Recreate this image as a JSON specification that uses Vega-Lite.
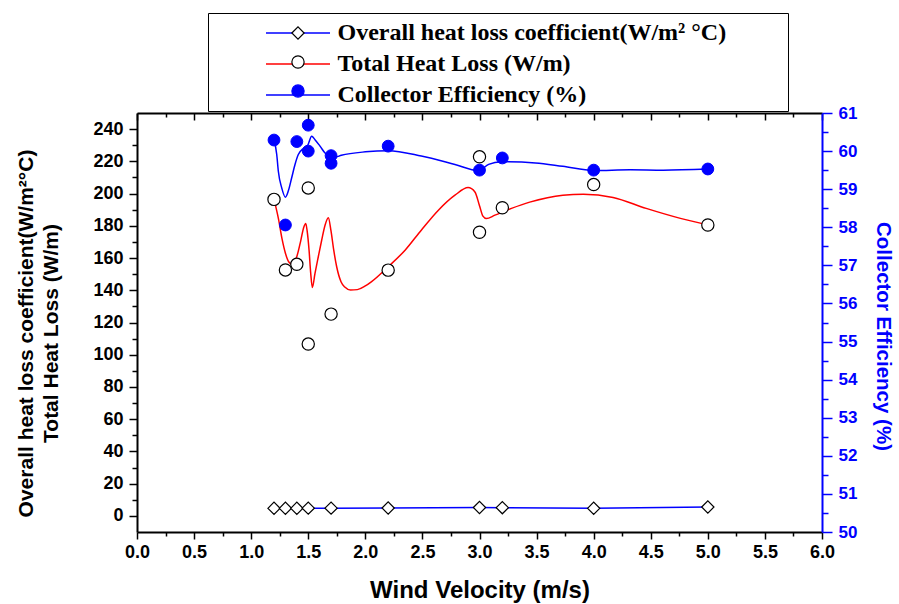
{
  "$schema": "https://vega.github.io/schema/vega-lite/v6.json",
  "width": 685,
  "height": 419,
  "autosize": {"type": "none"},
  "padding": {"left": 137, "top": 113, "right": 77, "bottom": 72},
  "background": "white",
  "config": {
    "view": {"stroke": null},
    "axis": {"grid": false, "labelFont": "Liberation Sans", "titleFont": "Liberation Sans", "labelFontWeight": "bold", "titleFontWeight": "bold", "labelFlush": false, "labelOverlap": false, "labelColor": "black", "titleColor": "black", "tickColor": "black", "domainColor": "black"}
  },
  "datasets": {
    "points": [
      {"x": 1.2, "y": 4.7, "series": "Overall heat loss coefficient(W/m² °C)"},
      {"x": 1.3, "y": 4.7, "series": "Overall heat loss coefficient(W/m² °C)"},
      {"x": 1.4, "y": 4.7, "series": "Overall heat loss coefficient(W/m² °C)"},
      {"x": 1.5, "y": 4.8, "series": "Overall heat loss coefficient(W/m² °C)"},
      {"x": 1.7, "y": 4.8, "series": "Overall heat loss coefficient(W/m² °C)"},
      {"x": 2.2, "y": 4.9, "series": "Overall heat loss coefficient(W/m² °C)"},
      {"x": 3.0, "y": 5.2, "series": "Overall heat loss coefficient(W/m² °C)"},
      {"x": 3.2, "y": 5.1, "series": "Overall heat loss coefficient(W/m² °C)"},
      {"x": 4.0, "y": 4.7, "series": "Overall heat loss coefficient(W/m² °C)"},
      {"x": 5.0, "y": 5.5, "series": "Overall heat loss coefficient(W/m² °C)"},
      {"x": 1.2, "y": 196.4, "series": "Total Heat Loss (W/m)"},
      {"x": 1.3, "y": 152.6, "series": "Total Heat Loss (W/m)"},
      {"x": 1.4, "y": 156.1, "series": "Total Heat Loss (W/m)"},
      {"x": 1.5, "y": 203.5, "series": "Total Heat Loss (W/m)"},
      {"x": 1.5, "y": 106.6, "series": "Total Heat Loss (W/m)"},
      {"x": 1.7, "y": 125.2, "series": "Total Heat Loss (W/m)"},
      {"x": 2.2, "y": 152.5, "series": "Total Heat Loss (W/m)"},
      {"x": 3.0, "y": 222.8, "series": "Total Heat Loss (W/m)"},
      {"x": 3.0, "y": 176.0, "series": "Total Heat Loss (W/m)"},
      {"x": 3.2, "y": 191.2, "series": "Total Heat Loss (W/m)"},
      {"x": 4.0, "y": 205.6, "series": "Total Heat Loss (W/m)"},
      {"x": 5.0, "y": 180.5, "series": "Total Heat Loss (W/m)"},
      {"x": 1.2, "y": 60.29, "series": "Collector Efficiency (%)"},
      {"x": 1.3, "y": 58.06, "series": "Collector Efficiency (%)"},
      {"x": 1.4, "y": 60.25, "series": "Collector Efficiency (%)"},
      {"x": 1.5, "y": 60.68, "series": "Collector Efficiency (%)"},
      {"x": 1.5, "y": 60.0, "series": "Collector Efficiency (%)"},
      {"x": 1.7, "y": 59.88, "series": "Collector Efficiency (%)"},
      {"x": 1.7, "y": 59.68, "series": "Collector Efficiency (%)"},
      {"x": 2.2, "y": 60.13, "series": "Collector Efficiency (%)"},
      {"x": 3.0, "y": 59.5, "series": "Collector Efficiency (%)"},
      {"x": 3.2, "y": 59.82, "series": "Collector Efficiency (%)"},
      {"x": 4.0, "y": 59.5, "series": "Collector Efficiency (%)"},
      {"x": 5.0, "y": 59.53, "series": "Collector Efficiency (%)"}
    ],
    "curves": [
      {"x": 1.2, "y": 196.4, "curve": "Total Heat Loss (W/m)"},
      {"x": 1.24, "y": 184, "curve": "Total Heat Loss (W/m)"},
      {"x": 1.27, "y": 172, "curve": "Total Heat Loss (W/m)"},
      {"x": 1.3, "y": 163, "curve": "Total Heat Loss (W/m)"},
      {"x": 1.33, "y": 157.5, "curve": "Total Heat Loss (W/m)"},
      {"x": 1.355, "y": 156.3, "curve": "Total Heat Loss (W/m)"},
      {"x": 1.38, "y": 158, "curve": "Total Heat Loss (W/m)"},
      {"x": 1.4, "y": 161, "curve": "Total Heat Loss (W/m)"},
      {"x": 1.435, "y": 171, "curve": "Total Heat Loss (W/m)"},
      {"x": 1.46, "y": 179, "curve": "Total Heat Loss (W/m)"},
      {"x": 1.478, "y": 181.5, "curve": "Total Heat Loss (W/m)"},
      {"x": 1.49, "y": 177, "curve": "Total Heat Loss (W/m)"},
      {"x": 1.507, "y": 165, "curve": "Total Heat Loss (W/m)"},
      {"x": 1.521, "y": 151, "curve": "Total Heat Loss (W/m)"},
      {"x": 1.536, "y": 141.7, "curve": "Total Heat Loss (W/m)"},
      {"x": 1.559, "y": 150.5, "curve": "Total Heat Loss (W/m)"},
      {"x": 1.588, "y": 160.8, "curve": "Total Heat Loss (W/m)"},
      {"x": 1.618, "y": 171.2, "curve": "Total Heat Loss (W/m)"},
      {"x": 1.647, "y": 180.4, "curve": "Total Heat Loss (W/m)"},
      {"x": 1.676, "y": 185, "curve": "Total Heat Loss (W/m)"},
      {"x": 1.699, "y": 177, "curve": "Total Heat Loss (W/m)"},
      {"x": 1.723, "y": 165, "curve": "Total Heat Loss (W/m)"},
      {"x": 1.749, "y": 154.6, "curve": "Total Heat Loss (W/m)"},
      {"x": 1.787, "y": 145.3, "curve": "Total Heat Loss (W/m)"},
      {"x": 1.82, "y": 142, "curve": "Total Heat Loss (W/m)"},
      {"x": 1.87, "y": 140.2, "curve": "Total Heat Loss (W/m)"},
      {"x": 1.93, "y": 140.4, "curve": "Total Heat Loss (W/m)"},
      {"x": 2.0, "y": 142.7, "curve": "Total Heat Loss (W/m)"},
      {"x": 2.055, "y": 145.4, "curve": "Total Heat Loss (W/m)"},
      {"x": 2.2, "y": 154.6, "curve": "Total Heat Loss (W/m)"},
      {"x": 2.35, "y": 165, "curve": "Total Heat Loss (W/m)"},
      {"x": 2.49, "y": 177.3, "curve": "Total Heat Loss (W/m)"},
      {"x": 2.64, "y": 189.7, "curve": "Total Heat Loss (W/m)"},
      {"x": 2.785, "y": 199, "curve": "Total Heat Loss (W/m)"},
      {"x": 2.9, "y": 203.7, "curve": "Total Heat Loss (W/m)"},
      {"x": 2.96, "y": 201, "curve": "Total Heat Loss (W/m)"},
      {"x": 3.0, "y": 192.5, "curve": "Total Heat Loss (W/m)"},
      {"x": 3.03, "y": 186, "curve": "Total Heat Loss (W/m)"},
      {"x": 3.06, "y": 184.5, "curve": "Total Heat Loss (W/m)"},
      {"x": 3.135, "y": 186.6, "curve": "Total Heat Loss (W/m)"},
      {"x": 3.28, "y": 190.8, "curve": "Total Heat Loss (W/m)"},
      {"x": 3.44, "y": 194.7, "curve": "Total Heat Loss (W/m)"},
      {"x": 3.73, "y": 199, "curve": "Total Heat Loss (W/m)"},
      {"x": 3.91, "y": 199.6, "curve": "Total Heat Loss (W/m)"},
      {"x": 4.17, "y": 197.6, "curve": "Total Heat Loss (W/m)"},
      {"x": 4.46, "y": 190.8, "curve": "Total Heat Loss (W/m)"},
      {"x": 4.76, "y": 184.6, "curve": "Total Heat Loss (W/m)"},
      {"x": 5.0, "y": 180.5, "curve": "Total Heat Loss (W/m)"},
      {"x": 1.2, "y": 60.29, "curve": "Collector Efficiency (%)"},
      {"x": 1.224, "y": 59.91, "curve": "Collector Efficiency (%)"},
      {"x": 1.238, "y": 59.47, "curve": "Collector Efficiency (%)"},
      {"x": 1.267, "y": 59.04, "curve": "Collector Efficiency (%)"},
      {"x": 1.3, "y": 58.79, "curve": "Collector Efficiency (%)"},
      {"x": 1.325, "y": 58.95, "curve": "Collector Efficiency (%)"},
      {"x": 1.355, "y": 59.3, "curve": "Collector Efficiency (%)"},
      {"x": 1.384, "y": 59.65, "curve": "Collector Efficiency (%)"},
      {"x": 1.413, "y": 59.91, "curve": "Collector Efficiency (%)"},
      {"x": 1.457, "y": 60.07, "curve": "Collector Efficiency (%)"},
      {"x": 1.495, "y": 60.15, "curve": "Collector Efficiency (%)"},
      {"x": 1.53, "y": 60.39, "curve": "Collector Efficiency (%)"},
      {"x": 1.559, "y": 60.3, "curve": "Collector Efficiency (%)"},
      {"x": 1.603, "y": 60.13, "curve": "Collector Efficiency (%)"},
      {"x": 1.647, "y": 59.95, "curve": "Collector Efficiency (%)"},
      {"x": 1.69, "y": 59.87, "curve": "Collector Efficiency (%)"},
      {"x": 1.734, "y": 59.84, "curve": "Collector Efficiency (%)"},
      {"x": 1.79, "y": 59.89, "curve": "Collector Efficiency (%)"},
      {"x": 2.0, "y": 59.98, "curve": "Collector Efficiency (%)"},
      {"x": 2.2, "y": 60.01, "curve": "Collector Efficiency (%)"},
      {"x": 2.49, "y": 59.87, "curve": "Collector Efficiency (%)"},
      {"x": 2.785, "y": 59.65, "curve": "Collector Efficiency (%)"},
      {"x": 2.99, "y": 59.49, "curve": "Collector Efficiency (%)"},
      {"x": 3.08, "y": 59.65, "curve": "Collector Efficiency (%)"},
      {"x": 3.19, "y": 59.72, "curve": "Collector Efficiency (%)"},
      {"x": 3.49, "y": 59.69, "curve": "Collector Efficiency (%)"},
      {"x": 3.73, "y": 59.6, "curve": "Collector Efficiency (%)"},
      {"x": 4.0, "y": 59.49, "curve": "Collector Efficiency (%)"},
      {"x": 4.32, "y": 59.51, "curve": "Collector Efficiency (%)"},
      {"x": 4.61, "y": 59.5, "curve": "Collector Efficiency (%)"},
      {"x": 5.0, "y": 59.53, "curve": "Collector Efficiency (%)"}
    ]
  },
  "layer": [
    {
      "layer": [
        {
          "data": {"name": "curves"},
          "transform": [{"filter": "datum.curve === 'Total Heat Loss (W/m)'"}],
          "mark": {"type": "line", "interpolate": "monotone", "strokeWidth": 1.5},
          "encoding": {
            "x": {"field": "x", "type": "quantitative", "scale": {"domain": [0, 6], "nice": false, "zero": false},
              "axis": {"orient": "bottom", "values": [0, 0.5, 1, 1.5, 2, 2.5, 3, 3.5, 4, 4.5, 5, 5.5, 6], "format": ".1f", "labelFontSize": 18, "tickSize": 7, "tickWidth": 1.5, "domainWidth": 2, "labelPadding": 4, "title": "Wind Velocity (m/s)", "titleFontSize": 24, "titlePadding": 17}},
            "y": {"field": "y", "type": "quantitative", "scale": {"domain": [-10, 250], "nice": false, "zero": false},
              "axis": {"orient": "left", "values": [0, 20, 40, 60, 80, 100, 120, 140, 160, 180, 200, 220, 240], "labelFontSize": 18, "tickSize": 8, "tickWidth": 1.5, "domainWidth": 2, "labelPadding": 6, "title": ["Overall heat loss coefficient(W/m²°C)", "Total Heat Loss (W/m)"], "titleFontSize": 21, "titleLineHeight": 25, "titlePadding": 31, "titleY": 220}},
            "color": {"field": "curve", "type": "nominal", "scale": {"range": ["#0000ff", "#0000ff", "#ff0000"]},
              "legend": {"orient": "none", "legendX": 119, "legendY": -100, "title": null, "values": ["Overall heat loss coefficient(W/m² °C)", "Total Heat Loss (W/m)", "Collector Efficiency (%)"], "symbolType": "stroke", "symbolSize": 4096, "symbolStrokeWidth": 1.5, "padding": 9, "clipHeight": 22, "rowPadding": 7, "labelFont": "Liberation Serif", "labelFontWeight": "bold", "labelFontSize": 24, "labelColor": "black", "labelOffset": 6.5, "labelLimit": 700, "zindex": 0}}
          }
        },
        {
          "data": {"name": "points"},
          "transform": [{"filter": "datum.series === 'Overall heat loss coefficient(W/m² °C)'"}],
          "mark": {"type": "line", "strokeWidth": 1.5},
          "encoding": {
            "x": {"field": "x", "type": "quantitative", "scale": {"domain": [0, 6], "nice": false, "zero": false},
              "axis": {"orient": "top", "values": [0, 0.5, 1, 1.5, 2, 2.5, 3, 3.5, 4, 4.5, 5, 5.5, 6], "labels": false, "tickSize": -7, "tickWidth": 1.5, "domainWidth": 2, "title": null}},
            "y": {"field": "y", "type": "quantitative", "scale": {"domain": [-10, 250], "nice": false, "zero": false},
              "axis": {"orient": "left", "values": [10, 30, 50, 70, 90, 110, 130, 150, 170, 190, 210, 230], "labels": false, "domain": false, "tickSize": 5, "tickWidth": 1.5, "title": null}},
            "color": {"field": "series", "type": "nominal"}
          }
        },
        {
          "data": {"name": "points"},
          "transform": [{"filter": "datum.series !== 'Collector Efficiency (%)'"}],
          "mark": {"type": "point", "size": 150, "opacity": 1, "strokeWidth": 1.2},
          "encoding": {
            "x": {"field": "x", "type": "quantitative", "scale": {"domain": [0, 6], "nice": false, "zero": false},
              "axis": {"orient": "bottom", "values": [0.25, 0.75, 1.25, 1.75, 2.25, 2.75, 3.25, 3.75, 4.25, 4.75, 5.25, 5.75], "labels": false, "domain": false, "tickSize": 4, "tickWidth": 1.5, "title": null}},
            "y": {"field": "y", "type": "quantitative", "scale": {"domain": [-10, 250], "nice": false, "zero": false}, "axis": null},
            "shape": {"field": "series", "type": "nominal", "scale": {"range": ["circle", "diamond", "circle"]},
              "legend": {"orient": "none", "legendX": 71, "legendY": -100, "title": null, "values": ["Overall heat loss coefficient(W/m² °C)", "Total Heat Loss (W/m)", "Collector Efficiency (%)"], "symbolSize": 150, "symbolStrokeWidth": 1.2, "symbolOffset": 74, "padding": 9, "clipHeight": 22, "rowPadding": 7, "labelExpr": "''", "labelFontSize": 10, "labelOffset": 474, "strokeColor": "black", "zindex": 1}},
            "fill": {"field": "series", "type": "nominal", "scale": {"range": ["#0000ff", "white", "white"]},
              "legend": {"orient": "none", "legendX": 71, "legendY": -100, "title": null, "values": ["Overall heat loss coefficient(W/m² °C)", "Total Heat Loss (W/m)", "Collector Efficiency (%)"], "symbolSize": 150, "symbolStrokeWidth": 1.2, "symbolOffset": 74, "padding": 9, "clipHeight": 22, "rowPadding": 7, "labelExpr": "''", "labelFontSize": 10, "labelOffset": 474, "strokeColor": "black", "zindex": 1}},
            "stroke": {"field": "series", "type": "nominal", "scale": {"range": ["#0000ff", "black", "black"]},
              "legend": {"orient": "none", "legendX": 71, "legendY": -100, "title": null, "values": ["Overall heat loss coefficient(W/m² °C)", "Total Heat Loss (W/m)", "Collector Efficiency (%)"], "symbolSize": 150, "symbolStrokeWidth": 1.2, "symbolOffset": 74, "padding": 9, "clipHeight": 22, "rowPadding": 7, "labelExpr": "''", "labelFontSize": 10, "labelOffset": 474, "strokeColor": "black", "zindex": 1}}
          }
        }
      ],
      "resolve": {"axis": {"x": "independent", "y": "independent"}}
    },
    {
      "layer": [
        {
          "data": {"name": "curves"},
          "transform": [{"filter": "datum.curve === 'Collector Efficiency (%)'"}],
          "mark": {"type": "line", "interpolate": "monotone", "strokeWidth": 1.5},
          "encoding": {
            "x": {"field": "x", "type": "quantitative", "scale": {"domain": [0, 6], "nice": false, "zero": false},
              "axis": {"orient": "top", "values": [0.25, 0.75, 1.25, 1.75, 2.25, 2.75, 3.25, 3.75, 4.25, 4.75, 5.25, 5.75], "labels": false, "domain": false, "tickSize": -4, "tickWidth": 1.5, "title": null}},
            "y": {"field": "y", "type": "quantitative", "scale": {"domain": [50, 61], "nice": false, "zero": false},
              "axis": {"orient": "right", "values": [50, 51, 52, 53, 54, 55, 56, 57, 58, 59, 60, 61], "labelFontSize": 17, "labelColor": "#0000ff", "tickColor": "#0000ff", "domainColor": "#0000ff", "tickSize": 10, "tickWidth": 1.5, "domainWidth": 2, "labelPadding": 6, "title": "Collector Efficiency (%)", "titleColor": "#0000ff", "titleFontSize": 20.5, "titlePadding": 16, "titleY": 223}},
            "color": {"field": "curve", "type": "nominal"}
          }
        },
        {
          "data": {"name": "points"},
          "transform": [{"filter": "datum.series === 'Collector Efficiency (%)'"}],
          "mark": {"type": "point", "size": 140, "opacity": 1, "strokeWidth": 1},
          "encoding": {
            "x": {"field": "x", "type": "quantitative", "scale": {"domain": [0, 6], "nice": false, "zero": false}, "axis": null},
            "y": {"field": "y", "type": "quantitative", "scale": {"domain": [50, 61], "nice": false, "zero": false},
              "axis": {"orient": "right", "values": [50.5, 51.5, 52.5, 53.5, 54.5, 55.5, 56.5, 57.5, 58.5, 59.5, 60.5], "labels": false, "domain": false, "tickColor": "#0000ff", "tickSize": 6, "tickWidth": 1.5, "title": null}},
            "shape": {"field": "series", "type": "nominal"},
            "fill": {"field": "series", "type": "nominal"},
            "stroke": {"field": "series", "type": "nominal"}
          }
        }
      ],
      "resolve": {"axis": {"x": "independent", "y": "independent"}}
    }
  ],
  "resolve": {"scale": {"y": "independent"}, "axis": {"x": "independent", "y": "independent"}}
}
